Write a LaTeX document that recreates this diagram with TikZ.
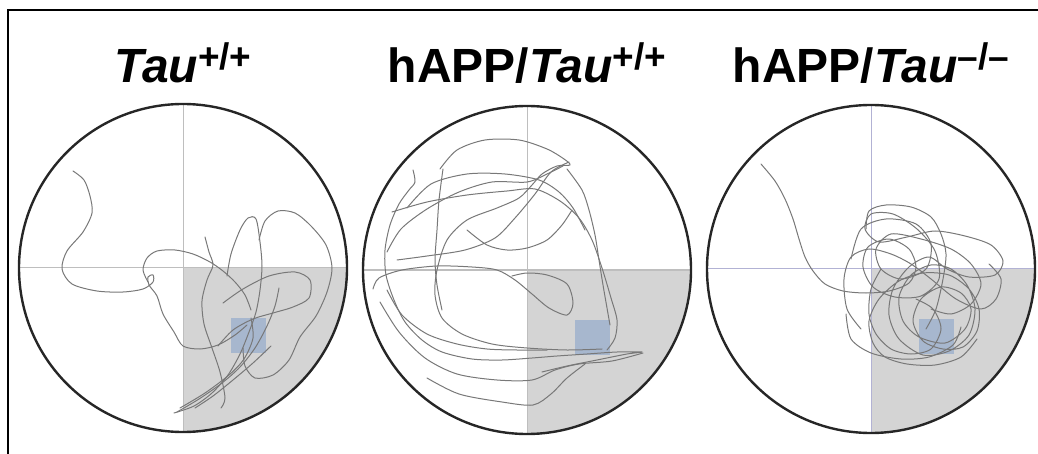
\documentclass[tikz,border=0pt]{standalone}
\usepackage{fontspec}
\newfontfamily\helv{Liberation Sans}
\definecolor{quadgray}{RGB}{212,212,212}
\definecolor{platblue}{RGB}{160,178,206}
\definecolor{trackgray}{RGB}{120,120,120}
\definecolor{axisgray}{RGB}{190,190,190}
\definecolor{axislilac}{RGB}{178,178,212}

\begin{document}
\begin{tikzpicture}
	[x=1pt,y=-1pt,
		arena/.style={draw=black!85,line width=2.4pt},
		quadrant/.style={fill=quadgray},
		axisline/.style={line width=1pt},
		platform/.style={fill=platblue,fill opacity=0.85},
		track/.style={draw=trackgray,line width=1pt,line join=round,line cap=round},
		title/.style={anchor=base,inner sep=0pt,font=\helv\bfseries\fontsize{48}{50}\selectfont},
		geno/.style={font=\helv\bfseries\fontsize{37}{37}\selectfont}]

\useasboundingbox (0,0) rectangle (1038,454);
\draw[line width=2pt] (8,454) -- (8,10) -- (1038,10);

% titles
\node[title] (wt)   at (183,83) {\textit{Tau}\raisebox{13pt}{\tikz[baseline]\node[geno,inner sep=0pt,anchor=base] (wtsup) {+/+};}};
\node[title] (happ) at (527,83) {hAPP/\textit{Tau}\raisebox{13pt}{\tikz[baseline]\node[geno,inner sep=0pt,anchor=base] (happsup) {+/+};}};
\node[title] (ko)   at (871,83) {hAPP/\textit{Tau}\raisebox{13pt}{\tikz[baseline]\node[geno,inner sep=0pt,anchor=base] (kosup) {–/–};}};

% pools: quadrant, axes, platform
\foreach \cx/\cy/\ax in {183/268/axisgray, 527/270/axisgray, 871/269/axislilac}{
  \begin{scope}[shift={(\cx,\cy)}]
    \begin{scope}
      \clip (0,0) circle[radius=164];
      \fill[quadrant] (0,0) rectangle (170,170);
    \end{scope}
    \draw[axisline,draw=\ax] (-164,0) -- (164,0) (0,-164) -- (0,164);
    \fill[platform] (48,50) rectangle (83,85);
  \end{scope}
}

% Tau+/+ swim path
\begin{scope}[shift={(183,268)}]
  \draw[track] plot[smooth] coordinates {(-110,-97) (-99,-88) (-93,-72) (-91,-55) (-100,-36) (-116,-17) (-121,1) (-111,16) (-86,23) (-60,24) (-40,21) (-30,14) (-30,7) (-35,9) (-34,17) (-26,28) (-20,46) (-9,64) (0,78) (17,81) (35,77) (52,67) (64,57)};
  \draw[track] plot[smooth] coordinates {(-35,14) (-40,2) (-36,-10) (-26,-17) (-8,-18) (10,-14) (27,-6) (40,3) (52,14) (62,27) (68,42)};
  \draw[track] plot[smooth] coordinates {(22,-31) (26,-16) (30,-3) (24,12) (19,33) (21,56) (29,80) (37,104) (42,130) (38,140)};
  \draw[track] plot[smooth] coordinates {(44,8) (48,-14) (57,-38) (65,-50) (73,-49) (77,-26) (79,-2) (77,22) (73,44) (66,64) (57,86) (45,107) (29,125) (11,138) (-9,145)};
  \draw[track] plot[smooth] coordinates {(76,-28) (82,-47) (95,-57) (112,-55) (128,-42) (143,-23) (149,0) (144,24) (133,48) (117,69) (106,92) (90,107) (72,110) (62,98) (60,80)};
  \draw[track] plot[smooth] coordinates {(40,35) (60,21) (86,8) (112,4) (127,12) (126,30) (110,39) (90,45) (70,51) (50,62) (35,78)};
  \draw[track] plot[smooth] coordinates {(-6,144) (16,131) (39,115) (57,99) (72,80) (84,58) (92,38) (96,20)};
  \draw[track] plot[smooth] coordinates {(-3,140) (22,125) (46,107) (61,91) (70,70) (68,50)};
  \draw[track] plot[smooth] coordinates {(12,140) (30,128) (50,112) (70,95) (88,78)};
\end{scope}

% hAPP/Tau+/+ swim path
\begin{scope}[shift={(527,270)}]
  \draw[track] plot[smooth] coordinates {(-114,-100) (-112,-88) (-118,-80) (-128,-66) (-137,-45) (-142,-20) (-141,5) (-133,30) (-122,52) (-105,70) (-85,82) (-55,89) (-25,90) (5,88) (30,86) (60,84) (90,82) (115,82) (100,84) (70,90) (40,96) (15,102)};
  \draw[track] plot[smooth] coordinates {(-87,-101) (-70,-120) (-42,-130) (-8,-130) (20,-121) (37,-111) (43,-105) (30,-104) (15,-96) (5,-85) (-8,-72) (-30,-62) (-60,-50) (-80,-30) (-90,0) (-92,25) (-85,48) (-65,64) (-35,74) (0,78) (40,80) (75,79)};
  \draw[track] plot[smooth] coordinates {(-154,19) (-148,8) (-125,0) (-90,-4) (-55,-3) (-30,0) (-12,10) (5,24) (22,38) (40,45) (46,33) (40,14) (20,5) (0,3) (-15,6)};
  \draw[track] plot[smooth] coordinates {(-135,-58) (-100,-68) (-60,-75) (-20,-79) (8,-81) (33,-69) (52,-52) (65,-30) (75,-2) (84,28) (90,50) (88,68) (80,80)};
  \draw[track] plot[smooth] coordinates {(-140,-18) (-126,-41) (-100,-61) (-68,-78) (-35,-88) (0,-88) (20,-96) (36,-104)};
  \draw[track] plot[smooth] coordinates {(-147,32) (-128,62) (-102,88) (-70,104) (-30,110) (5,110) (28,100) (52,94) (85,91) (116,83)};
  \draw[track] plot[smooth] coordinates {(-140,20) (-125,45) (-100,64) (-70,74) (-40,79) (-10,80) (20,80)};
  \draw[track] plot[smooth] coordinates {(-100,108) (-68,124) (-25,132) (6,135) (24,124) (40,108) (58,94)};
  \draw[track] plot[smooth] coordinates {(40,-101) (55,-80) (62,-60) (68,-35) (72,-10) (76,15) (80,38) (83,55)};
  \draw[track] plot[smooth] coordinates {(-60,-40) (-40,-25) (-20,-20) (0,-22) (20,-30) (35,-45) (45,-60)};
  \draw[track] plot[smooth] coordinates {(-84,-101) (-88,-70) (-90,-40) (-92,-10) (-90,15) (-85,40)};
  \draw[track] plot[smooth] coordinates {(-130,-10) (-100,-14) (-62,-20) (-32,-32) (-12,-52) (8,-76) (24,-98) (42,-108)};
  \draw[track] plot[smooth] coordinates {(-120,-62) (-96,-86) (-60,-96) (-22,-96) (12,-90) (32,-78) (46,-62) (58,-40)};
\end{scope}

% hAPP/Tau-/- swim path
\begin{scope}[shift={(871,269)}]
  \draw[track] plot[smooth] coordinates {(-110,-105) (-96,-88) (-86,-70) (-78,-50) (-72,-30) (-66,-12) (-58,2) (-46,15) (-28,22) (-5,24) (18,22) (38,14) (45,-2) (38,-20) (18,-30) (-3,-22) (-8,-2) (2,18) (24,28) (50,27) (68,10) (64,-18) (46,-40) (22,-55) (0,-55) (-6,-40) (8,-27) (36,-32) (64,-38) (94,-33) (120,-24) (132,-8) (124,6) (98,8) (76,0) (58,-12) (38,-2) (22,20) (18,46) (28,70) (52,86) (78,82) (98,66) (104,40) (96,16) (80,0) (60,-4) (40,6) (28,28) (32,52) (48,68) (74,74) (94,60) (100,40) (90,24) (70,18) (50,30) (42,52) (52,72) (72,80) (92,78) (106,62) (108,40) (98,20) (78,6) (52,4) (28,12) (8,30) (-2,52) (2,74) (14,88) (36,95) (64,96) (90,88) (106,70)};
  \draw[track] plot[smooth] coordinates {(-10,60) (-24,40) (-27,10) (-20,-12) (-2,-20) (20,-15) (40,-5) (60,10) (85,30) (110,40) (125,30) (130,10) (118,-5)};
  \draw[track] plot[smooth] coordinates {(-5,-40) (-2,-58) (15,-64) (40,-62) (60,-52) (70,-35) (75,-15) (72,10) (65,40) (55,60)};
  \draw[track] plot[smooth] coordinates {(10,0) (0,20) (-2,45) (5,65) (20,80) (40,85) (60,80) (70,60) (62,40) (45,30)};
  \draw[track] plot[smooth] coordinates {(-20,-10) (-10,-40) (15,-50) (45,-45) (60,-25) (55,0) (30,10) (10,0) (5,-20) (20,-35) (50,-30) (80,-20) (100,-5) (110,15) (100,35) (80,45) (60,40)};
  \draw[track] plot[smooth] coordinates {(-25,45) (-20,70) (0,84) (30,90) (58,88) (82,76) (90,58)};
\end{scope}

% pool walls
\foreach \cx/\cy in {183/268, 527/270, 871/269}
  \draw[arena] (\cx,\cy) circle[radius=164];

\end{tikzpicture}
\end{document}
